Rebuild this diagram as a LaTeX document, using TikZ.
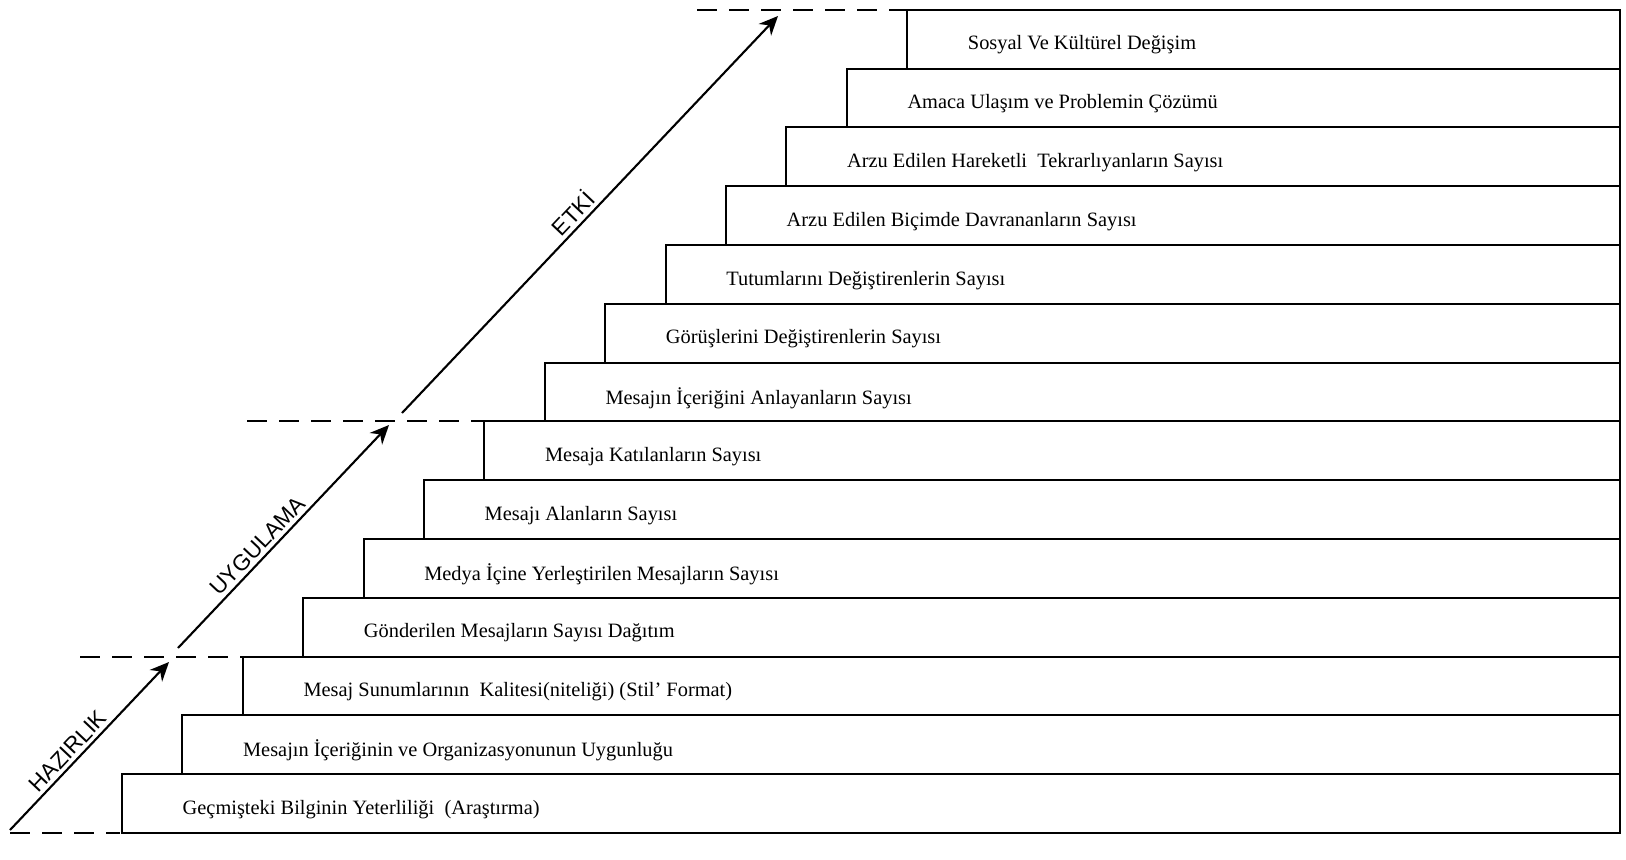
\documentclass[tikz,border=0pt]{standalone}
\usepackage{fontspec}
\setmainfont{Liberation Serif}
\setsansfont{Liberation Sans}
\usetikzlibrary{arrows.meta}
\begin{document}
\begin{tikzpicture}[
  stepbox/.style={draw,line width=0.6pt},
  steptext/.style={anchor=west,inner sep=0pt,font=\fontsize{5.8}{7}\selectfont},
  phase/.style={sloped,above,inner sep=1pt,font=\sffamily\fontsize{6.4}{7}\selectfont},
  level/.style={line width=0.6pt,dash pattern=on 0.2cm off 0.12cm},
  rise/.style={-{Stealth[length=1.9mm,width=1.7mm]},line width=0.6pt}
]
\useasboundingbox (0,0) rectangle (16.26,8.59);
\pgfmathsetmacro{\dx}{0.604}
\pgfmathsetmacro{\dy}{0.588}
\pgfmathsetmacro{\xr}{16.20}
% basamaklar
\foreach \t [count=\i from 0] in {{Geçmişteki Bilginin Yeterliliği~ (Araştırma)},
  {Mesajın İçeriğinin ve Organizasyonunun Uygunluğu},
  {Mesaj Sunumlarının~ Kalitesi(niteliği) (Stil' Format)},
  {Gönderilen Mesajların Sayısı Dağıtım},
  {Medya İçine Yerleştirilen Mesajların Sayısı},
  {Mesajı Alanların Sayısı},
  {Mesaja Katılanların Sayısı},
  {Mesajın İçeriğini Anlayanların Sayısı},
  {Görüşlerini Değiştirenlerin Sayısı},
  {Tutumlarını Değiştirenlerin Sayısı},
  {Arzu Edilen Biçimde Davrananların Sayısı},
  {Arzu Edilen Hareketli~ Tekrarlıyanların Sayısı},
  {Amaca Ulaşım ve Problemin Çözümü},
  {Sosyal Ve Kültürel Değişim}}{
  \draw[stepbox]({1.22+\i*\dx},{0.26+\i*\dy})rectangle(\xr,{0.26+(\i+1)*\dy});
  \node[steptext](s\i)at({1.82+\i*\dx},{0.26+(\i+0.4)*\dy}){\t};
}
% seviye cizgileri
\coordinate(d1a)at(0.10,0.26);\coordinate(d1b)at(1.20,0.26);
\coordinate(d2a)at(0.80,2.024);\coordinate(d2b)at(2.42,2.024);
\coordinate(d3a)at(2.47,4.376);\coordinate(d3b)at(4.83,4.376);
\coordinate(d4a)at(6.97,8.492);\coordinate(d4b)at(9.06,8.492);
\draw[level](d1a)--(d1b);
\draw[level](d2a)--(d2b);
\draw[level](d3a)--(d3b);
\draw[level](d4a)--(d4b);
% asamalar
\coordinate(h0)at(0.10,0.29);\coordinate(h1)at(1.69,1.97);
\coordinate(u0)at(1.78,2.11);\coordinate(u1)at(3.89,4.34);
\coordinate(e0)at(4.02,4.46);\coordinate(e1)at(7.78,8.43);
\draw[rise](h0)--node[phase,pos=0.42](hz){HAZIRLIK}(h1);
\draw[rise](u0)--node[phase,pos=0.42](ug){UYGULAMA}(u1);
\draw[rise](e0)--node[phase,pos=0.48](et){ETKİ}(e1);
\end{tikzpicture}
\end{document}
